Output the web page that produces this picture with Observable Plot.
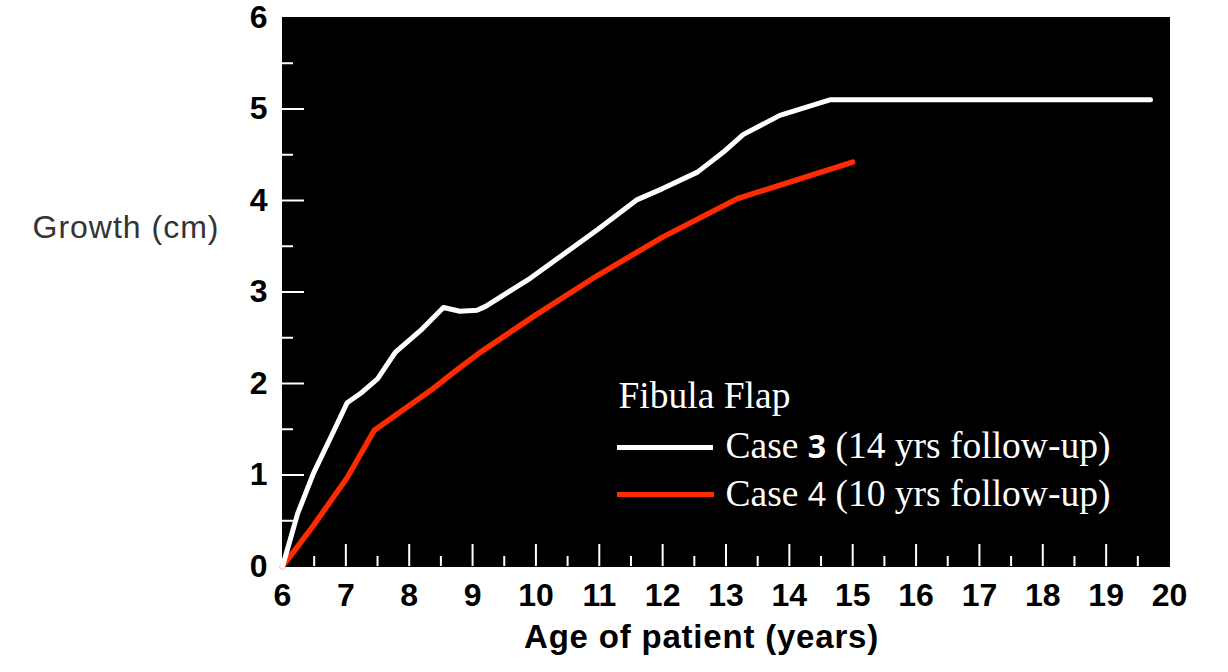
<!DOCTYPE html>
<html><head><meta charset="utf-8">
<script src="https://cdn.jsdelivr.net/npm/d3@7"></script>
<script src="https://cdn.jsdelivr.net/npm/@observablehq/plot@0.6"></script>
<style>
html,body{margin:0;padding:0;background:#fff;}
</style>
</head><body><div id="chart"></div>
<script>
// Case 3 (white)
const case3Age    = [6, 6.24, 6.49, 6.76, 7.02, 7.23, 7.5, 7.78, 8.18, 8.54, 8.8, 9.07, 9.2, 9.91, 10.97, 11.6, 12.0, 12.55, 12.96, 13.27, 13.85, 14.64, 19.7];
const case3Growth = [0, 0.58, 1.02, 1.41, 1.79, 1.89, 2.05, 2.34, 2.58, 2.83, 2.79, 2.80, 2.84, 3.15, 3.68, 4.01, 4.13, 4.31, 4.53, 4.72, 4.93, 5.10, 5.10];
// Case 4 (red)
const case4Age    = [6, 6.49, 7.02, 7.45, 8.33, 8.7, 9.12, 10.0, 10.97, 12.0, 13.18, 15.0];
const case4Growth = [0, 0.45, 0.97, 1.49, 1.92, 2.12, 2.34, 2.75, 3.18, 3.6, 4.02, 4.42];

const xTicks = [6, 7, 8, 9, 10, 11, 12, 13, 14, 15, 16, 17, 18, 19, 20];
const xMinorTicks = [6.5, 7.5, 8.5, 9.5, 10.5, 11.5, 12.5, 13.5, 14.5, 15.5, 16.5, 17.5, 18.5, 19.5];
const yTicks = [0, 1, 2, 3, 4, 5, 6];
const yMinorTicks = [0.5, 1.5, 2.5, 3.5, 4.5, 5.5];

const legendTitle = "Fibula Flap";
const seriesLabels = ["Case 3 (14 yrs follow-up)", "Case 4 (10 yrs follow-up)"];
const xLabel = "Age of patient (years)";
const yLabel = "Growth (cm)";

const case3 = case3Age.map((a, i) => ({age: a, growth: case3Growth[i]}));
const case4 = case4Age.map((a, i) => ({age: a, growth: case4Growth[i]}));

const W = 1228, H = 672, mL = 282, mR = 59, mT = 17, mB = 106;
const plotW = W - mL - mR, plotH = H - mT - mB;
const WHITE = "#ffffff", RED = "#ff2a00";
const serif = "'Liberation Serif', 'Times New Roman', serif";

const chart = Plot.plot({
  width: W, height: H,
  marginLeft: mL, marginRight: mR, marginTop: mT, marginBottom: mB,
  x: {domain: [6, 20]},
  y: {domain: [0, 6]},
  style: {fontFamily: "'Liberation Sans', Arial, sans-serif", color: "black", background: "white", overflow: "visible"},
  marks: [
    Plot.frame({fill: "black", stroke: "black"}),
    Plot.ruleX(xTicks.filter(d => d > 6 && d < 20), {x: d => d, stroke: WHITE, strokeWidth: 2, insetTop: plotH - 22}),
    Plot.ruleX(xMinorTicks, {x: d => d, stroke: WHITE, strokeWidth: 2, insetTop: plotH - 10}),
    Plot.ruleY(yTicks.filter(d => d > 0 && d < 6), {y: d => d, stroke: WHITE, strokeWidth: 2, insetRight: plotW - 22}),
    Plot.ruleY(yMinorTicks, {y: d => d, stroke: WHITE, strokeWidth: 2, insetRight: plotW - 11}),
    Plot.axisX(xTicks, {tickSize: 0, tickPadding: 17, tickFormat: d => String(d), fontSize: 32, fontWeight: "bold", label: null, fill: "black"}),
    Plot.axisY(yTicks, {tickSize: 0, tickPadding: 15, tickFormat: d => String(d), fontSize: 32, fontWeight: "bold", label: null, fill: "black"}),
    Plot.line(case4, {x: "age", y: "growth", stroke: RED, strokeWidth: 5.5, strokeLinejoin: "round"}),
    Plot.line(case3, {x: "age", y: "growth", stroke: WHITE, strokeWidth: 5, strokeLinejoin: "round"}),
    // axis titles
    Plot.text([yLabel], {text: d => d, frameAnchor: "top-left", dx: 32 - mL, dy: 237 - mT, textAnchor: "start", lineAnchor: "bottom", fontSize: 32, fill: "#333333"}),
    Plot.text([xLabel], {text: d => d, frameAnchor: "bottom-left", dx: 701 - mL, dy: 647 - (H - mB), textAnchor: "middle", lineAnchor: "bottom", fontSize: 33, fontWeight: "bold", fill: "black"}),
    // legend
    Plot.text([legendTitle], {text: d => d, frameAnchor: "top-left", dx: 618 - mL, dy: 407 - mT, textAnchor: "start", lineAnchor: "bottom", fontSize: 37.5, fontFamily: serif, fill: WHITE}),
    Plot.text([seriesLabels[0]], {text: d => d, frameAnchor: "top-left", dx: 725 - mL, dy: 457 - mT, textAnchor: "start", lineAnchor: "bottom", fontSize: 37.5, fontFamily: serif, fill: WHITE}),
    Plot.text([seriesLabels[1]], {text: d => d, frameAnchor: "top-left", dx: 725 - mL, dy: 505 - mT, textAnchor: "start", lineAnchor: "bottom", fontSize: 37.5, fontFamily: serif, fill: WHITE}),
    Plot.ruleY([0], {dy: 447 - (H - mB), insetLeft: 617 - mL, insetRight: W - mR - 713, stroke: WHITE, strokeWidth: 5}),
    Plot.ruleY([0], {dy: 494 - (H - mB), insetLeft: 617 - mL, insetRight: W - mR - 714, stroke: RED, strokeWidth: 5})
  ]
});

// letter spacing on titles; sans-serif digits in legend
d3.select(chart).selectAll("text").each(function() {
  const t = this.textContent;
  if (t === yLabel) this.setAttribute("letter-spacing", "1");
  if (t === xLabel) this.setAttribute("letter-spacing", "0.8");
  if (t.startsWith("Case ")) {
    const num = t[5], rest = t.slice(6);
    this.textContent = "";
    const s = d3.select(this);
    s.append("tspan").text("Case ");
    s.append("tspan").attr("font-family", "'Open Sans', sans-serif").attr("font-weight", num === "3" ? "bold" : "normal").attr("font-size", 32).text(num);
    s.append("tspan").text(rest);
  }
});

document.getElementById("chart").appendChild(chart);
</script>
</body></html>
